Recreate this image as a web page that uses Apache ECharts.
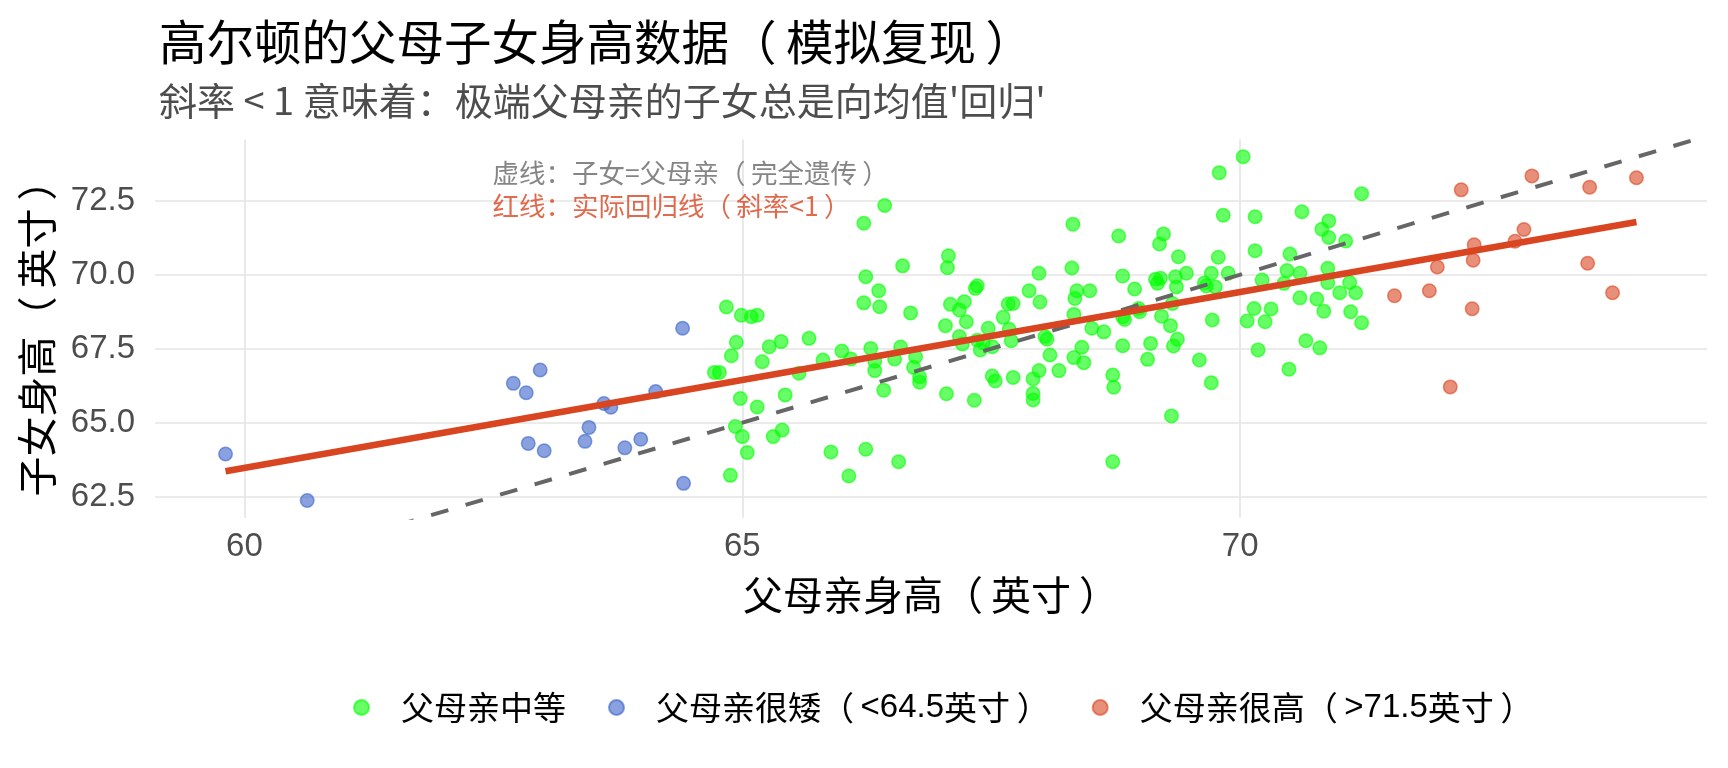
<!DOCTYPE html>
<html>
<head>
<meta charset="utf-8">
<title>高尔顿的父母子女身高数据</title>
<script src="https://cdn.jsdelivr.net/npm/echarts@6/dist/echarts.min.js"></script>
<style>
    html, body { margin: 0; padding: 0; background: #fff; }
    #chart { width: 1728px; height: 768px; }
</style>
</head>
<body>
<div id="chart"></div>
<script>
// 数据：[父母亲身高, 子女身高]
var middleData = [
    [66.43,72.34],[66.22,71.74],[66.61,70.30],[66.24,69.93],[66.37,69.46],[66.22,69.05],[66.38,68.92],[66.69,68.71],
    [64.84,68.91],[64.99,68.63],[65.09,68.58],[65.15,68.63],[64.94,67.72],[64.89,67.26],[65.27,67.57],[65.39,67.74],
    [65.67,67.85],[65.20,67.06],[64.72,66.70],[64.77,66.70],[65.57,66.67],[65.81,67.12],[66.00,67.42],[66.09,67.15],
    [66.29,67.51],[66.33,67.08],[66.33,66.76],[66.59,67.56],[66.53,67.15],[66.74,67.23],[66.72,66.87],[66.78,66.55],
    [66.78,66.37],[66.42,66.10],[64.98,65.82],[65.15,65.53],[65.43,65.94],[64.93,64.87],[65.00,64.53],[65.31,64.53],
    [65.40,64.75],[65.05,63.99],[65.89,64.01],[66.24,64.10],
    [64.88,63.22],[66.07,63.20],[66.57,63.68],[67.05,65.98],[67.33,65.76],[67.51,66.58],[67.54,66.41],[67.72,66.53],
    [67.92,66.48],[67.98,66.76],[67.92,65.99],[67.92,65.77],[68.18,66.76],[68.72,66.61],[68.73,66.20],[68.72,63.68],
    [70.03,73.99],[69.79,73.45],[69.83,72.01],[70.15,71.96],[70.15,70.81],[68.32,71.71],[68.78,71.31],[69.23,71.38],
    [69.19,71.04],[69.38,70.61],[69.78,70.59],[67.07,70.64],[67.06,70.24],[67.98,70.05],[68.31,70.23],[68.82,69.96],
    [69.46,70.05],[69.71,70.05],[69.88,70.05],[69.35,69.93],[69.15,69.85],[69.20,69.88],[69.17,69.71],[69.64,69.72],
    [69.66,69.62],[69.75,69.59],[69.36,69.59],[67.36,69.63],[67.34,69.54],[67.88,69.46],[68.36,69.46],[68.49,69.46],
    [68.94,69.52],[68.34,69.20],[67.99,69.08],[67.09,69.00],[67.23,69.09],[67.18,68.81],[67.25,68.41],[67.04,68.28],
    [67.67,69.01],[67.72,69.03],[67.62,68.56],[68.33,68.66],[68.82,68.58],[68.84,68.49],[68.98,68.86],[68.99,68.75],
    [69.21,68.60],[69.30,68.28],[69.32,69.03],[69.72,68.47],[70.07,68.44],[70.14,68.86],[67.47,68.19],[67.68,68.16],
    [67.18,67.91],[67.36,67.79],[67.42,67.70],[67.21,67.66],[67.51,67.57],[67.39,67.46],[67.70,67.77],[68.04,67.91],
    [68.06,67.82],[68.51,68.19],[68.63,68.07],[68.41,67.55],[68.09,67.29],[68.33,67.20],[68.43,67.03],[68.82,67.60],
    [69.10,67.68],[69.07,67.14],[69.37,67.82],[69.33,67.59],[69.59,67.12],[69.71,66.35],[69.31,65.23],
    [70.62,72.13],[71.22,72.74],[70.89,71.82],[70.82,71.54],[70.89,71.26],[71.06,71.14],[70.50,70.70],[70.47,70.14],
    [70.60,70.05],[70.88,70.22],[70.22,69.82],[70.44,69.71],[70.88,69.73],[71.10,69.74],[71.00,69.39],[71.16,69.39],
    [70.60,69.22],[70.77,69.18],[70.84,68.77],[71.11,68.75],[71.22,68.38],[70.31,68.84],[70.25,68.41],[70.66,67.77],
    [70.80,67.53],[70.18,67.46],[70.49,66.81]
];
var shortData = [
    [59.81,63.94],[60.63,62.37],[62.70,66.33],[62.83,66.01],[62.97,66.78],[62.85,64.30],[63.01,64.05],[63.61,65.65],
    [63.68,65.52],[63.46,64.84],[63.42,64.37],[63.82,64.15],[63.98,64.44],[64.13,66.05],[64.40,68.19],[64.41,62.95]
];
var tallData = [
    [71.55,69.29],[71.90,69.46],[71.98,70.26],[72.22,72.87],[72.35,71.01],[72.34,70.49],[72.33,68.85],[72.11,66.21],
    [72.76,71.13],[72.85,71.53],[72.93,73.34],[73.49,70.39],[73.51,72.96],[73.74,69.39],[73.98,73.28]
];
var xTicks = [60, 65, 70];
var yTicks = [62.5, 65, 67.5, 70, 72.5];
var groupNames = ['父母亲中等', '父母亲很矮（<64.5英寸）', '父母亲很高（>71.5英寸）'];

var cjk = '"Noto Sans CJK SC", "Noto Sans", sans-serif';
var latin = '"Liberation Sans", Arial, sans-serif';
var redColor = '#D84520';

// 全角括号两侧留白
function parens(s) {
    return s.replace(/（/g, '{po|（}').replace(/）/g, '{pc|）}');
}
function parenRich(size, color) {
    var pad = size * 0.2;
    return {
        po: { fontFamily: cjk, fontSize: size, color: color, padding: [0, pad, 0, 0] },
        pc: { fontFamily: cjk, fontSize: size, color: color, padding: [0, 0, 0, pad] },
        n: { fontFamily: latin, fontSize: size, color: color }
    };
}

(function(){
    var myChart = echarts.init(document.getElementById('chart'));
    var all = middleData.concat(shortData, tallData);
    var xs = all.map(function(d){ return d[0]; });
    var ys = all.map(function(d){ return d[1]; });

    // ggplot 默认 5% 扩展
    function expand(vals) {
        var lo = Math.min.apply(null, vals), hi = Math.max.apply(null, vals);
        var pad = (hi - lo) * 0.05;
        return { lo: lo, hi: hi, min: lo - pad, max: hi + pad };
    }
    var xr = expand(xs), yr = expand(ys);

    // 最小二乘回归线
    var n = all.length, mx = 0, my = 0;
    all.forEach(function(d){ mx += d[0]; my += d[1]; });
    mx /= n; my /= n;
    var sxy = 0, sxx = 0;
    all.forEach(function(d){ sxy += (d[0]-mx)*(d[1]-my); sxx += (d[0]-mx)*(d[0]-mx); });
    var slope = sxy / sxx, intercept = my - slope * mx;
    var fitLine = [[xr.lo, intercept + slope * xr.lo], [xr.hi, intercept + slope * xr.hi]];
    var diagLine = [[xr.min, xr.min], [xr.max, xr.max]];

    function pointSeries(name, data, color) {
        return {
            name: name,
            type: 'scatter',
            data: data,
            symbolSize: 13.5,
            itemStyle: { color: color, opacity: 0.6, borderColor: color, borderWidth: 1.5 },
            emphasis: { disabled: true },
            z: 2
        };
    }

    var option = {
        animation: false,
        title: [{
            text: parens('高尔顿的父母子女身高数据（模拟复现）'),
            left: 154, top: 13,
            textStyle: { fontFamily: cjk, fontSize: 47.5, lineHeight: 48, fontWeight: 'normal', color: '#000',
                rich: parenRich(47.5, '#000') }
        }, {
            text: "斜率 < 1 意味着：极端父母亲的子女总是向均值'回归'",
            left: 154, top: 77,
            textStyle: { fontFamily: cjk, fontSize: 38, lineHeight: 38, fontWeight: 'normal', color: '#4D4D4D' }
        }],
        grid: { left: 155, right: 21, top: 139.5, bottom: 250.3 },
        legend: {
            left: 348, top: 686,
            icon: 'circle',
            itemWidth: 15, itemHeight: 15, itemGap: 42,
            data: groupNames,
            formatter: function(name){
                return parens(name).replace(/([<>][0-9.]+)/g, '{n|$1}');
            },
            textStyle: { fontFamily: cjk, fontSize: 33, color: '#000', padding: [0, 0, 0, 27],
                rich: parenRich(33, '#000') }
        },
        xAxis: {
            type: 'value',
            min: xr.min, max: xr.max,
            name: parens('父母亲身高（英寸）'),
            nameLocation: 'middle',
            nameGap: 57,
            nameTextStyle: { fontFamily: cjk, fontSize: 40, color: '#000', rich: parenRich(40, '#000') },
            axisLine: { show: false },
            axisTick: { show: false, customValues: xTicks },
            axisLabel: {
                customValues: xTicks, margin: 13,
                fontFamily: latin, fontSize: 33, color: '#4D4D4D'
            },
            splitLine: { show: true, lineStyle: { color: '#E5E5E5', width: 1.7 } }
        },
        yAxis: {
            type: 'value',
            min: yr.min, max: yr.max,
            name: parens('子女身高（英寸）'),
            nameLocation: 'middle',
            nameGap: 98,
            nameTextStyle: { fontFamily: cjk, fontSize: 40, color: '#000', rich: parenRich(40, '#000') },
            axisLine: { show: false },
            axisTick: { show: false, customValues: yTicks },
            axisLabel: {
                customValues: yTicks, margin: 20,
                formatter: function(v){ return v.toFixed(1); },
                fontFamily: latin, fontSize: 33, color: '#4D4D4D'
            },
            splitLine: { show: true, lineStyle: { color: '#E5E5E5', width: 1.7 } }
        },
        series: [
            pointSeries(groupNames[0], middleData, '#00FF00'),
            pointSeries(groupNames[1], shortData, '#3B62C9'),
            pointSeries(groupNames[2], tallData, redColor),
            {
                name: 'diag',
                type: 'line',
                data: diagLine,
                symbol: 'none',
                silent: true,
                lineStyle: { color: '#666666', width: 4, type: [18, 18] },
                z: 3
            },
            {
                name: 'fit',
                type: 'line',
                data: fitLine,
                symbol: 'none',
                silent: true,
                lineStyle: { color: redColor, width: 6.5 },
                z: 4
            },
            {
                name: 'note',
                type: 'scatter',
                symbolSize: 0,
                silent: true,
                data: [
                    { value: [62.49, 73.43], label: { formatter: parens('虚线：子女=父母亲（完全遗传）'), color: '#666666',
                        rich: parenRich(26.5, '#666666') } },
                    { value: [62.49, 72.32], label: { formatter: parens('红线：实际回归线（斜率<1）'), color: redColor,
                        rich: parenRich(26.5, redColor) } }
                ],
                label: { show: true, position: 'right', distance: 0, fontFamily: cjk, fontSize: 26.5 },
                z: 5
            }
        ]
    };
    myChart.setOption(option);
})();
</script>
</body>
</html>
